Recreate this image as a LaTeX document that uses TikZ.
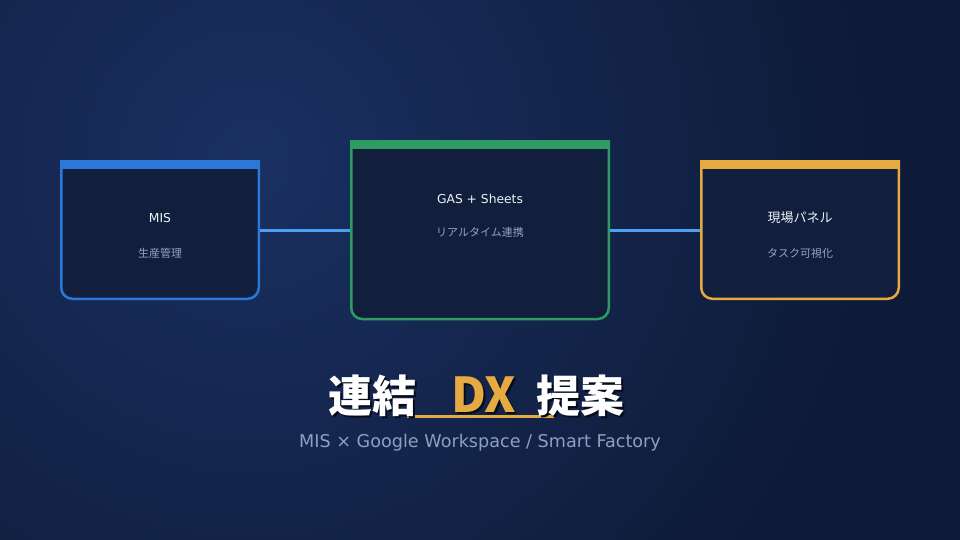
\documentclass[tikz,border=0pt]{standalone}
\usepackage{fontspec}
\setmainfont{Noto Sans CJK JP}
\newfontfamily\latinfont{DejaVu Sans}
\definecolor{bgbase}{HTML}{0E1B38}
\definecolor{bglight}{HTML}{1A3062}
\definecolor{cardfill}{HTML}{111E3C}
\definecolor{cblue}{HTML}{2A78D8}
\definecolor{cgreen}{HTML}{2E9B63}
\definecolor{corange}{HTML}{E6AA42}
\definecolor{conncol}{HTML}{4BA0F5}
\definecolor{maintext}{HTML}{EEF2F8}
\definecolor{subtext}{HTML}{95A4C2}
\definecolor{subtitlecol}{HTML}{8E9FC2}
\definecolor{shadowcol}{HTML}{050B18}
\newcommand{\shadowtext}[2]{\makebox[0pt][l]{\raisebox{-2pt}{\hspace{2pt}\textcolor{shadowcol}{#2}}}\textcolor{#1}{#2}}
\tikzset{
  cardshape/.style={inner sep=0pt, outer sep=0pt},
  smallcard/.style={cardshape, minimum width=197.5pt, minimum height=137.5pt},
  bigcard/.style={cardshape, minimum width=257.5pt, minimum height=178pt},
  cardborder/.style={draw=#1, line width=2.5pt, rounded corners=11pt},
  cardtitle/.style={inner sep=0pt, text=maintext, font=\latinfont\fontsize{12.3}{15}\selectfont},
  cardtitlejp/.style={inner sep=0pt, text=maintext, font=\fontsize{13}{15}\selectfont},
  cardsub/.style={inner sep=0pt, text=subtext, font=\fontsize{11}{14}\selectfont},
  connector/.style={draw=conncol, line width=3pt, shorten <=1.25pt, shorten >=1.25pt},
  titletext/.style={inner sep=0pt, anchor=base, font=\bfseries\fontsize{44}{50}\selectfont},
}
\newcommand{\drawcard}[2]{%
  \fill[cardfill, rounded corners=11pt] (#1.north west) -- (#1.south west) -- (#1.south east) -- (#1.north east) -- cycle;
  \draw[cardborder=#2] (#1.north west) -- (#1.south west) -- (#1.south east) -- (#1.north east);
  \fill[#2] ([shift={(-1.25pt,1.25pt)}]#1.north west) rectangle ([shift={(1.25pt,-8pt)}]#1.north east);
}
\begin{document}
\begin{tikzpicture}[x=1pt, y=-1pt]
\useasboundingbox (0,0) rectangle (960,540);
% background
\fill[bgbase] (0,0) rectangle (960,540);
\begin{scope}
  \clip (0,0) rectangle (960,540);
  \shade[inner color=bglight, outer color=bgbase] (250,160) circle (620pt);
\end{scope}
% cards
\node[smallcard] (mis) at (160,230) {};
\node[bigcard] (gas) at (480,230) {};
\node[smallcard] (panel) at (800,230) {};
\drawcard{mis}{cblue}
\drawcard{gas}{cgreen}
\drawcard{panel}{corange}
% connectors
\draw[connector] (mis.east) -- (gas.west);
\draw[connector] (gas.east) -- (panel.west);
% card texts
\node[cardtitle] (mist) at (160,218) {MIS};
\node[cardsub] (miss) at (160,253) {生産管理};
\node[cardtitle] (gast) at (480,199) {GAS + Sheets};
\node[cardsub] (gass) at (480,232) {リアルタイム連携};
\node[cardtitlejp] (panelt) at (800,218) {現場パネル};
\node[cardsub] (panels) at (800,253) {タスク可視化};
% underline
\coordinate (ulA) at (407,416.5);
\coordinate (ulB) at (555,416.5);
\draw[corange, line width=3.5pt] (ulA) -- (ulB);
% title
\node[titletext] (t1) at (372.5,412.5) {\shadowtext{white}{連結}};
\node[titletext, font=\bfseries\fontsize{48}{52}\selectfont] (t2) at (483.5,412.5) {\shadowtext{corange}{DX}};
\node[titletext] (t3) at (580.5,412.5) {\shadowtext{white}{提案}};
% subtitle
\node[inner sep=0pt, anchor=base, text=subtitlecol, font=\latinfont\fontsize{17.6}{20}\selectfont] (sub) at (480,447) {MIS × Google Workspace / Smart Factory};
\end{tikzpicture}
\end{document}
